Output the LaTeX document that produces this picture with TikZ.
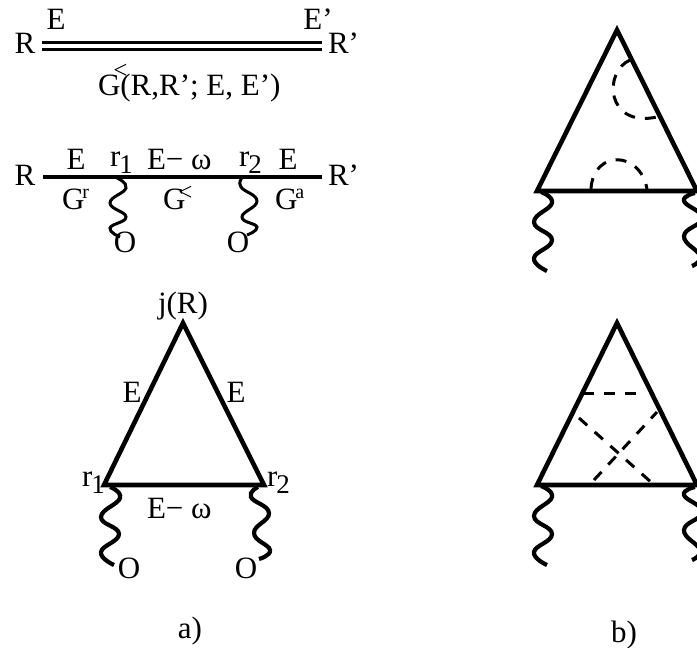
\documentclass[tikz,border=0pt]{standalone}
\usepackage{fontspec}
\setmainfont{Liberation Serif}
\newcommand{\lbl}{\fontsize{31}{34}\selectfont}
\newcommand{\subn}[1]{\kern-1pt\raisebox{-7pt}{\fontsize{27}{28}\selectfont #1}}
\newcommand{\supn}[1]{\kern-2pt\raisebox{11pt}{\fontsize{20}{20}\selectfont #1}}
\newcommand{\lessmark}[1]{\kern-7pt\raisebox{#1}{\fontsize{25}{25}\selectfont\rlap{<}}\kern7pt}
\tikzset{
  x=1pt,y=-1pt,
  txt/.style={inner sep=0pt,outer sep=0pt,anchor=base,font=\lbl},
  txtl/.style={inner sep=0pt,outer sep=0pt,anchor=base west,font=\lbl},
  heavy/.style={line width=4.6pt,line join=miter},
  thinline/.style={line width=3.4pt},
  dbl/.style={line width=3pt},
  wavy/.style={line width=4.2pt,line cap=butt},
  wavysmall/.style={line width=3pt},
  dash line/.style={line width=3pt,dash pattern=on 11pt off 10pt}
}
\begin{document}
\begin{tikzpicture}
\useasboundingbox (0,0) rectangle (697,648);
\clip (0,0) rectangle (697,648);
% top: double line
\node[txt] (tR) at (25,53) {R};
\node[txt] (tE) at (56,29) {E};
\node[txt] (tEp) at (318,29) {E’};
\node[txtl] (tRp) at (328,53) {R’};
\node[txtl] (tG) at (98,95) {G\lessmark{17pt}(R,R’; E, E’)};
\coordinate (d1a) at (42,42); \coordinate (d1b) at (322,42);
\coordinate (d2a) at (42,49); \coordinate (d2b) at (322,49);
\draw[dbl] (d1a) -- (d1b);
\draw[dbl] (d2a) -- (d2b);
% second row
\node[txt] (mR) at (25,185) {R};
\node[txtl] (mRp) at (328,185) {R’};
\node[txt] (mE1) at (76,169) {E};
\node[txtl] (mr1) at (110,166) {r\subn{1}};
\node[txtl] (mEw) at (147,169) {E− ω};
\node[txtl] (mr2) at (239,166) {r\subn{2}};
\node[txt] (mE2) at (288,169) {E};
\node[txtl] (mGr) at (62,209) {G\supn{r}};
\node[txtl] (mGl) at (163,209) {G\lessmark{9pt}};
\node[txtl] (mGa) at (275,209) {G\supn{a}};
\node[txt] (mO1) at (125,252) {O};
\node[txt] (mO2) at (238,252) {O};
\coordinate (ma) at (43,177); \coordinate (mb) at (322,177);
\draw[thinline] (ma) -- (mb);
\draw[wavysmall] plot[smooth,tension=0.8] coordinates {(117,178) (126,188) (110,203) (126,217) (110,228) (120,237)};
\draw[wavysmall] plot[smooth,tension=0.8] coordinates {(242,178) (241,187) (257,201) (242,217) (257,227) (247,235)};
% triangle a
\coordinate (aT) at (183,323); \coordinate (aL) at (104,485); \coordinate (aR) at (264,485);
\draw[heavy] (aT) -- (aL) -- (aR) -- cycle;
\node[txt] (aj) at (183,313) {j(R)};
\node[txt] (aE1) at (132,402) {E};
\node[txt] (aE2) at (236,402) {E};
\node[txtl] (ar1) at (82,486) {r\subn{1}};
\node[txtl] (ar2) at (267,486) {r\subn{2}};
\node[txtl] (aEw) at (147,518) {E− ω};
\node[txt] (aO1) at (129,578) {O};
\node[txt] (aO2) at (246,578) {O};
\node[txt] (acap) at (190,638) {a)};
\draw[wavy] plot[smooth,tension=0.8] coordinates {(110,487) (120,498) (101,517) (119,534) (101,552) (114,565)};
\draw[wavy] plot[smooth,tension=0.8] coordinates {(258,487) (251,497) (269,513) (254,533) (270,550) (259,559)};
% triangle b1
\coordinate (bT) at (617,30); \coordinate (bL) at (537,191); \coordinate (bR) at (697,191);
\draw[heavy] (bT) -- (bL) -- (bR) -- cycle;
\draw[wavy] plot[smooth,tension=0.8] coordinates {(541,192) (552,203) (534,222) (552,240) (534,258) (547,271)};
\draw[wavy] plot[smooth,tension=0.8] coordinates {(695,193) (684,201) (702,218) (684,236) (700,256) (692,266)};
\coordinate (ba1) at (630,60); \coordinate (ba2) at (657,117);
\draw[dash line] (ba1) .. controls (603,72) and (606,128) .. (ba2);
\coordinate (bb1) at (591,189); \coordinate (bb2) at (647,189);
\draw[dash line] (bb1) .. controls (593,150) and (640,150) .. (bb2);
% triangle b2
\coordinate (cT) at (617,323); \coordinate (cL) at (537,485); \coordinate (cR) at (697,485);
\draw[heavy] (cT) -- (cL) -- (cR) -- cycle;
\draw[wavy] plot[smooth,tension=0.8] coordinates {(541,486) (552,497) (534,516) (552,534) (534,552) (547,565)};
\draw[wavy] plot[smooth,tension=0.8] coordinates {(695,487) (684,495) (702,512) (684,530) (700,550) (692,560)};
\coordinate (c1a) at (583,393); \coordinate (c1b) at (637,393);
\coordinate (c2a) at (579,418); \coordinate (c2b) at (652,483);
\coordinate (c3a) at (657,412); \coordinate (c3b) at (594,480);
\draw[dash line] (c1a) -- (c1b);
\draw[dash line] (c2a) -- (c2b);
\draw[line width=3pt,dash pattern=on 11pt off 10pt,dash phase=2.3pt] (c3a) -- (c3b);
\node[txt] (bcap) at (624,642) {b)};
\end{tikzpicture}
\end{document}
